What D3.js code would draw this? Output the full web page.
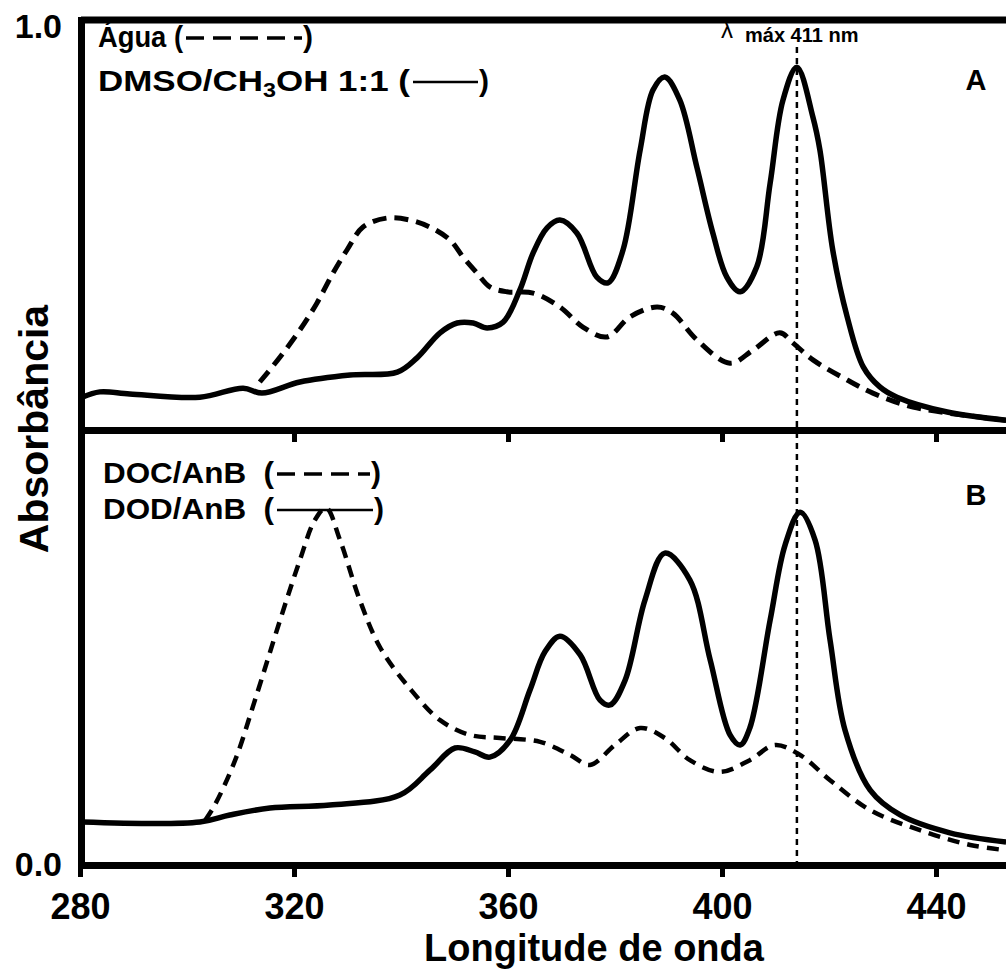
<!DOCTYPE html>
<html>
<head>
<meta charset="utf-8">
<script src="https://cdn.jsdelivr.net/npm/d3@7"></script>
<style>
  body { margin: 0; background: #fff; }
  text { font-family: "Liberation Sans", Arial, sans-serif; font-weight: bold; fill: #000; }
</style>
</head>
<body>
<div id="chart"></div>
<script>
// values (wavelength in nm, absorbance normalised per panel)
const xTicks = [280, 320, 360, 400, 440];
const yTicks = [0, 1];
const lambdaMax = 414;

// panel A
const dmsoNm = [280.4, 283.7, 289.3, 302.4, 310.5, 314.0, 321.1, 330.5, 339.3, 343.0, 347.3, 350.5, 353.5, 356.1, 359.1, 362.2, 364.7, 367.3, 369.7, 372.9, 376.6, 378.7, 381.5, 384.7, 387.1, 389.3, 392.1, 395.3, 398.3, 400.9, 403.4, 406.5, 409.0, 411.4, 414.0, 417.0, 418.3, 420.7, 423.4, 426.4, 429.5, 432.7, 442.1, 453.1];
const dmsoAbs = [0.080, 0.093, 0.088, 0.080, 0.102, 0.090, 0.117, 0.134, 0.141, 0.176, 0.237, 0.261, 0.261, 0.249, 0.263, 0.341, 0.432, 0.493, 0.512, 0.480, 0.373, 0.359, 0.439, 0.683, 0.829, 0.861, 0.805, 0.641, 0.480, 0.373, 0.337, 0.398, 0.602, 0.805, 0.885, 0.763, 0.683, 0.439, 0.276, 0.154, 0.105, 0.080, 0.044, 0.024];
const aguaNm = [313.6, 317.4, 321.1, 324.3, 327.3, 329.9, 332.9, 337.4, 341.7, 345.4, 349.2, 351.6, 354.2, 356.6, 359.8, 364.7, 369.7, 374.0, 378.5, 382.8, 387.9, 390.8, 395.3, 401.5, 405.8, 410.8, 413.3, 417.0, 423.4, 428.2, 435.7, 453.1];
const aguaAbs = [0.117, 0.178, 0.244, 0.310, 0.383, 0.439, 0.495, 0.517, 0.512, 0.495, 0.463, 0.422, 0.383, 0.349, 0.337, 0.334, 0.300, 0.251, 0.227, 0.276, 0.300, 0.285, 0.220, 0.163, 0.195, 0.237, 0.212, 0.171, 0.122, 0.090, 0.056, 0.024];

// panel B
const dodNm = [280.4, 302.4, 308.0, 315.5, 326.7, 339.8, 345.4, 350.1, 353.8, 356.6, 360.4, 364.1, 366.9, 369.7, 373.5, 377.2, 379.1, 381.9, 385.6, 389.3, 394.0, 397.8, 401.5, 403.4, 405.2, 409.0, 411.8, 414.6, 417.4, 420.2, 423.0, 427.7, 433.3, 442.6, 453.1];
const dodAbs = [0.099, 0.099, 0.115, 0.131, 0.138, 0.161, 0.218, 0.269, 0.260, 0.248, 0.287, 0.402, 0.490, 0.526, 0.483, 0.379, 0.368, 0.425, 0.609, 0.717, 0.655, 0.471, 0.299, 0.276, 0.315, 0.563, 0.736, 0.811, 0.747, 0.517, 0.310, 0.172, 0.115, 0.074, 0.053];
const docNm = [303.4, 305.2, 309.0, 312.7, 317.4, 321.1, 323.9, 326.0, 328.6, 332.3, 336.1, 341.7, 347.3, 352.9, 358.5, 366.0, 371.6, 375.3, 380.0, 384.7, 389.3, 394.0, 399.6, 405.2, 409.9, 414.6, 420.2, 427.7, 437.0, 446.4, 453.1];
const docAbs = [0.103, 0.138, 0.241, 0.379, 0.563, 0.701, 0.793, 0.821, 0.747, 0.609, 0.500, 0.405, 0.333, 0.299, 0.292, 0.283, 0.253, 0.230, 0.276, 0.315, 0.292, 0.241, 0.214, 0.241, 0.276, 0.253, 0.195, 0.126, 0.080, 0.046, 0.034];

const width = 1006, height = 971;
const plotLeft = 81, plotTop = 20, plotMid = 430, plotBottom = 865;

const svg = d3.select("#chart").append("svg")
    .attr("width", width)
    .attr("height", height);

const x = d3.scaleLinear().domain([280, 454]).range([80, 80 + 174 * 5.35]);
const yAll = d3.scaleLinear().domain([0, 1]).range([plotBottom, plotTop]);
const yA = d3.scaleLinear().domain([0, 1]).range([plotMid, plotTop]);
const yB = d3.scaleLinear().domain([0, 1]).range([plotBottom, plotMid]);

// frame: top border
svg.append("line")
    .attr("x1", plotLeft).attr("x2", width)
    .attr("y1", plotTop).attr("y2", plotTop)
    .attr("stroke", "#000").attr("stroke-width", 7);

// left axis (only 0.0 and 1.0 are labelled)
const yAxis = svg.append("g")
    .attr("transform", `translate(${plotLeft},0)`)
    .call(d3.axisLeft(yAll).tickValues(yTicks).tickFormat(d3.format(".1f")).tickSize(0).tickSizeOuter(0).tickPadding(19));
yAxis.select(".domain").attr("stroke-width", 7).attr("stroke-linecap", "square");
yAxis.selectAll("text")
    .attr("dy", d => d === 1 ? "0.5em" : "0.3em")
    .style("font-size", "34px").style("font-family", "Liberation Sans, Arial, sans-serif").style("font-weight", "bold");

// panel separator = x axis of panel A, no labels
const midAxis = svg.append("g")
    .attr("transform", `translate(0,${plotMid})`)
    .call(d3.axisBottom(x).tickValues(xTicks).tickFormat("").tickSize(12).tickSizeOuter(0));
midAxis.select(".domain").attr("stroke-width", 7);
midAxis.selectAll(".tick line").attr("stroke-width", 5);

// bottom x axis
const xAxis = svg.append("g")
    .attr("transform", `translate(0,${plotBottom})`)
    .call(d3.axisBottom(x).tickValues(xTicks).tickFormat(d3.format("d")).tickSize(12).tickSizeOuter(0).tickPadding(16));
xAxis.select(".domain").attr("stroke-width", 7);
xAxis.selectAll(".tick line").attr("stroke-width", 5);
xAxis.selectAll("text").style("font-size", "36px").style("font-family", "Liberation Sans, Arial, sans-serif").style("font-weight", "bold");

// axis titles
svg.append("text")
    .attr("x", 594).attr("y", 961)
    .attr("text-anchor", "middle")
    .style("font-size", "38px")
    .text("Longitude de onda");

svg.append("text")
    .attr("transform", "rotate(-90)")
    .attr("x", -429).attr("y", 48)
    .attr("text-anchor", "middle")
    .style("font-size", "41px")
    .text("Absorbância");

// lambda max marker
svg.append("line")
    .attr("x1", x(lambdaMax)).attr("x2", x(lambdaMax))
    .attr("y1", 47).attr("y2", plotBottom)
    .attr("stroke", "#000").attr("stroke-width", 2.5)
    .attr("stroke-dasharray", "6,5");

svg.append("text")
    .attr("x", 721).attr("y", 38)
    .style("font-size", "24px").style("font-weight", "normal")
    .text("λ");
svg.append("text")
    .attr("x", 745).attr("y", 42)
    .style("font-size", "20px")
    .text("máx 411 nm");

// curves
const line = (nm, abs, y) => d3.line()
    .x((d, i) => x(nm[i]))
    .y((d, i) => y(abs[i]))
    .curve(d3.curveCatmullRom.alpha(0.5))(nm);

const curves = [
    { nm: aguaNm, abs: aguaAbs, y: yA, w: 5, dash: "14,8" },
    { nm: dmsoNm, abs: dmsoAbs, y: yA, w: 5.5, dash: null },
    { nm: docNm, abs: docAbs, y: yB, w: 4.5, dash: "12,8" },
    { nm: dodNm, abs: dodAbs, y: yB, w: 5.5, dash: null }
];

curves.forEach(c => {
    svg.append("path")
        .attr("d", line(c.nm, c.abs, c.y))
        .attr("fill", "none")
        .attr("stroke", "#000")
        .attr("stroke-width", c.w)
        .attr("stroke-linejoin", "round")
        .attr("stroke-dasharray", c.dash);
});

// legends: label text, sample line, closing bracket
function legendRow(xPos, yPos, parts, dashed, len, fit) {
    const t = svg.append("text")
        .attr("x", xPos).attr("y", yPos)
        .style("font-size", "30px");
    parts.forEach(p => {
        if (p.sub) {
            t.append("tspan").attr("dy", 6).style("font-size", "20px").text(p.sub);
        } else {
            t.append("tspan").attr("dy", p.after ? -6 : 0).text(p.text);
        }
    });
    if (fit) t.attr("textLength", fit).attr("lengthAdjust", "spacingAndGlyphs");
    const w = fit || t.node().getComputedTextLength();
    const x0 = xPos + w + 3;
    svg.append("line")
        .attr("x1", x0).attr("x2", x0 + len)
        .attr("y1", yPos - 9).attr("y2", yPos - 9)
        .attr("stroke", "#000")
        .attr("stroke-width", dashed ? 3.5 : 2.5)
        .attr("stroke-dasharray", dashed ? "18,9" : null);
    svg.append("text")
        .attr("x", x0 + len + 1).attr("y", yPos)
        .style("font-size", "30px")
        .text(")");
}

legendRow(98, 47, [{ text: "Água (" }], true, 116, 85);
legendRow(98, 91, [{ text: "DMSO/CH" }, { sub: "3" }, { text: "OH 1:1 (", after: true }], false, 65, 312);
legendRow(103, 483, [{ text: "DOC/AnB\u00a0\u00a0(" }], true, 93, 171);
legendRow(103, 519, [{ text: "DOD/AnB\u00a0\u00a0(" }], false, 96, 171);

// panel letters
svg.append("text").attr("x", 976).attr("y", 90).attr("text-anchor", "middle").style("font-size", "29px").text("A");
svg.append("text").attr("x", 976).attr("y", 505).attr("text-anchor", "middle").style("font-size", "29px").text("B");
</script>
</body>
</html>
